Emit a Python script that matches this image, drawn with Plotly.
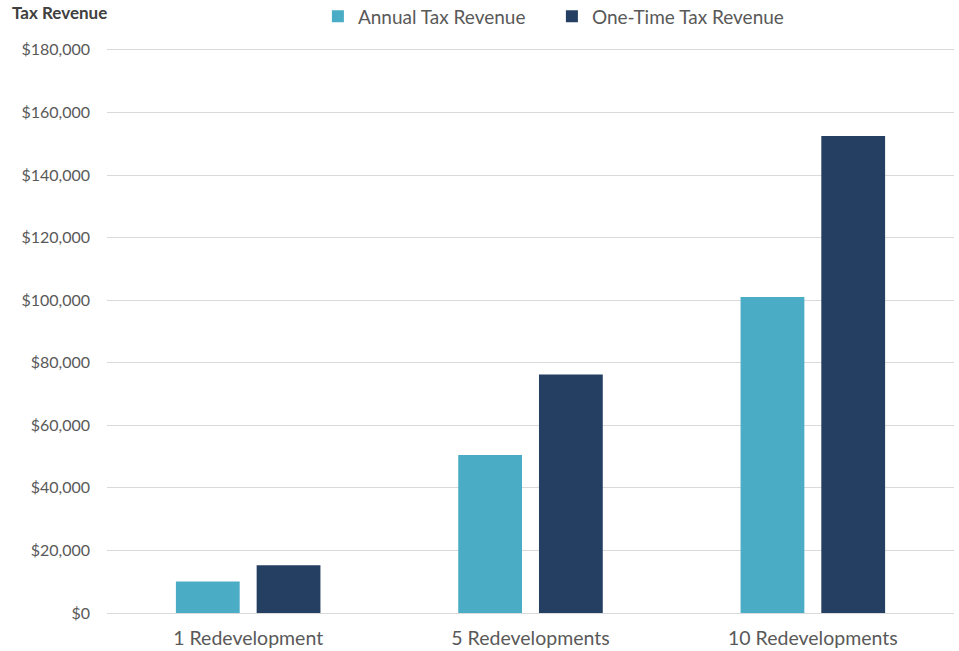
import plotly.graph_objects as go

categories = ["1 Redevelopment", "5 Redevelopments", "10 Redevelopments"]
annual = [10100, 50500, 101000]
one_time = [15250, 76250, 152500]
tick_vals = [0, 20000, 40000, 60000, 80000, 100000, 120000, 140000, 160000, 180000]
tick_text = ["$0", "$20,000", "$40,000", "$60,000", "$80,000", "$100,000", "$120,000", "$140,000", "$160,000", "$180,000"]

FONT = "Lato, Carlito, 'Noto Sans', sans-serif"

fig = go.Figure()
fig.add_trace(go.Bar(x=categories, y=annual, name="Annual Tax Revenue", marker_color="#4BACC6", marker_line_width=0))
fig.add_trace(go.Bar(x=categories, y=one_time, name="One-Time Tax Revenue", marker_color="#243F62", marker_line_width=0))

fig.update_layout(
    width=959, height=651,
    margin=dict(l=107, r=5, t=48, b=38, autoexpand=False),
    paper_bgcolor="white", plot_bgcolor="white",
    barmode="group", bargap=0.428, bargroupgap=0.21,
    font=dict(family=FONT, color="#595959", size=16),
    legend=dict(orientation="h", x=0.249, y=1.056, xanchor="left", yanchor="middle",
                font=dict(size=19, color="#595959"), itemwidth=30, traceorder="normal",
                entrywidth=189, entrywidthmode="pixels"),
    annotations=[dict(text="<b>Tax Revenue</b>", xref="paper", yref="paper", x=-0.114, y=1.062,
                      xanchor="left", yanchor="middle", showarrow=False,
                      font=dict(size=17, color="#404040"))],
)
fig.update_yaxes(range=[0, 180600], tickvals=tick_vals, ticktext=tick_text,
                 showgrid=True, gridcolor="#D9D9D9", gridwidth=1.3, zeroline=False,
                 showline=False, ticks="", ticklabelstandoff=16,
                 tickfont=dict(size=16, color="#595959"))
fig.update_xaxes(showline=True, linecolor="#D9D9D9", linewidth=1.3, ticks="",
                 tickfont=dict(size=19.5, color="#595959"), ticklabelstandoff=7)

fig.write_html("out.html")
